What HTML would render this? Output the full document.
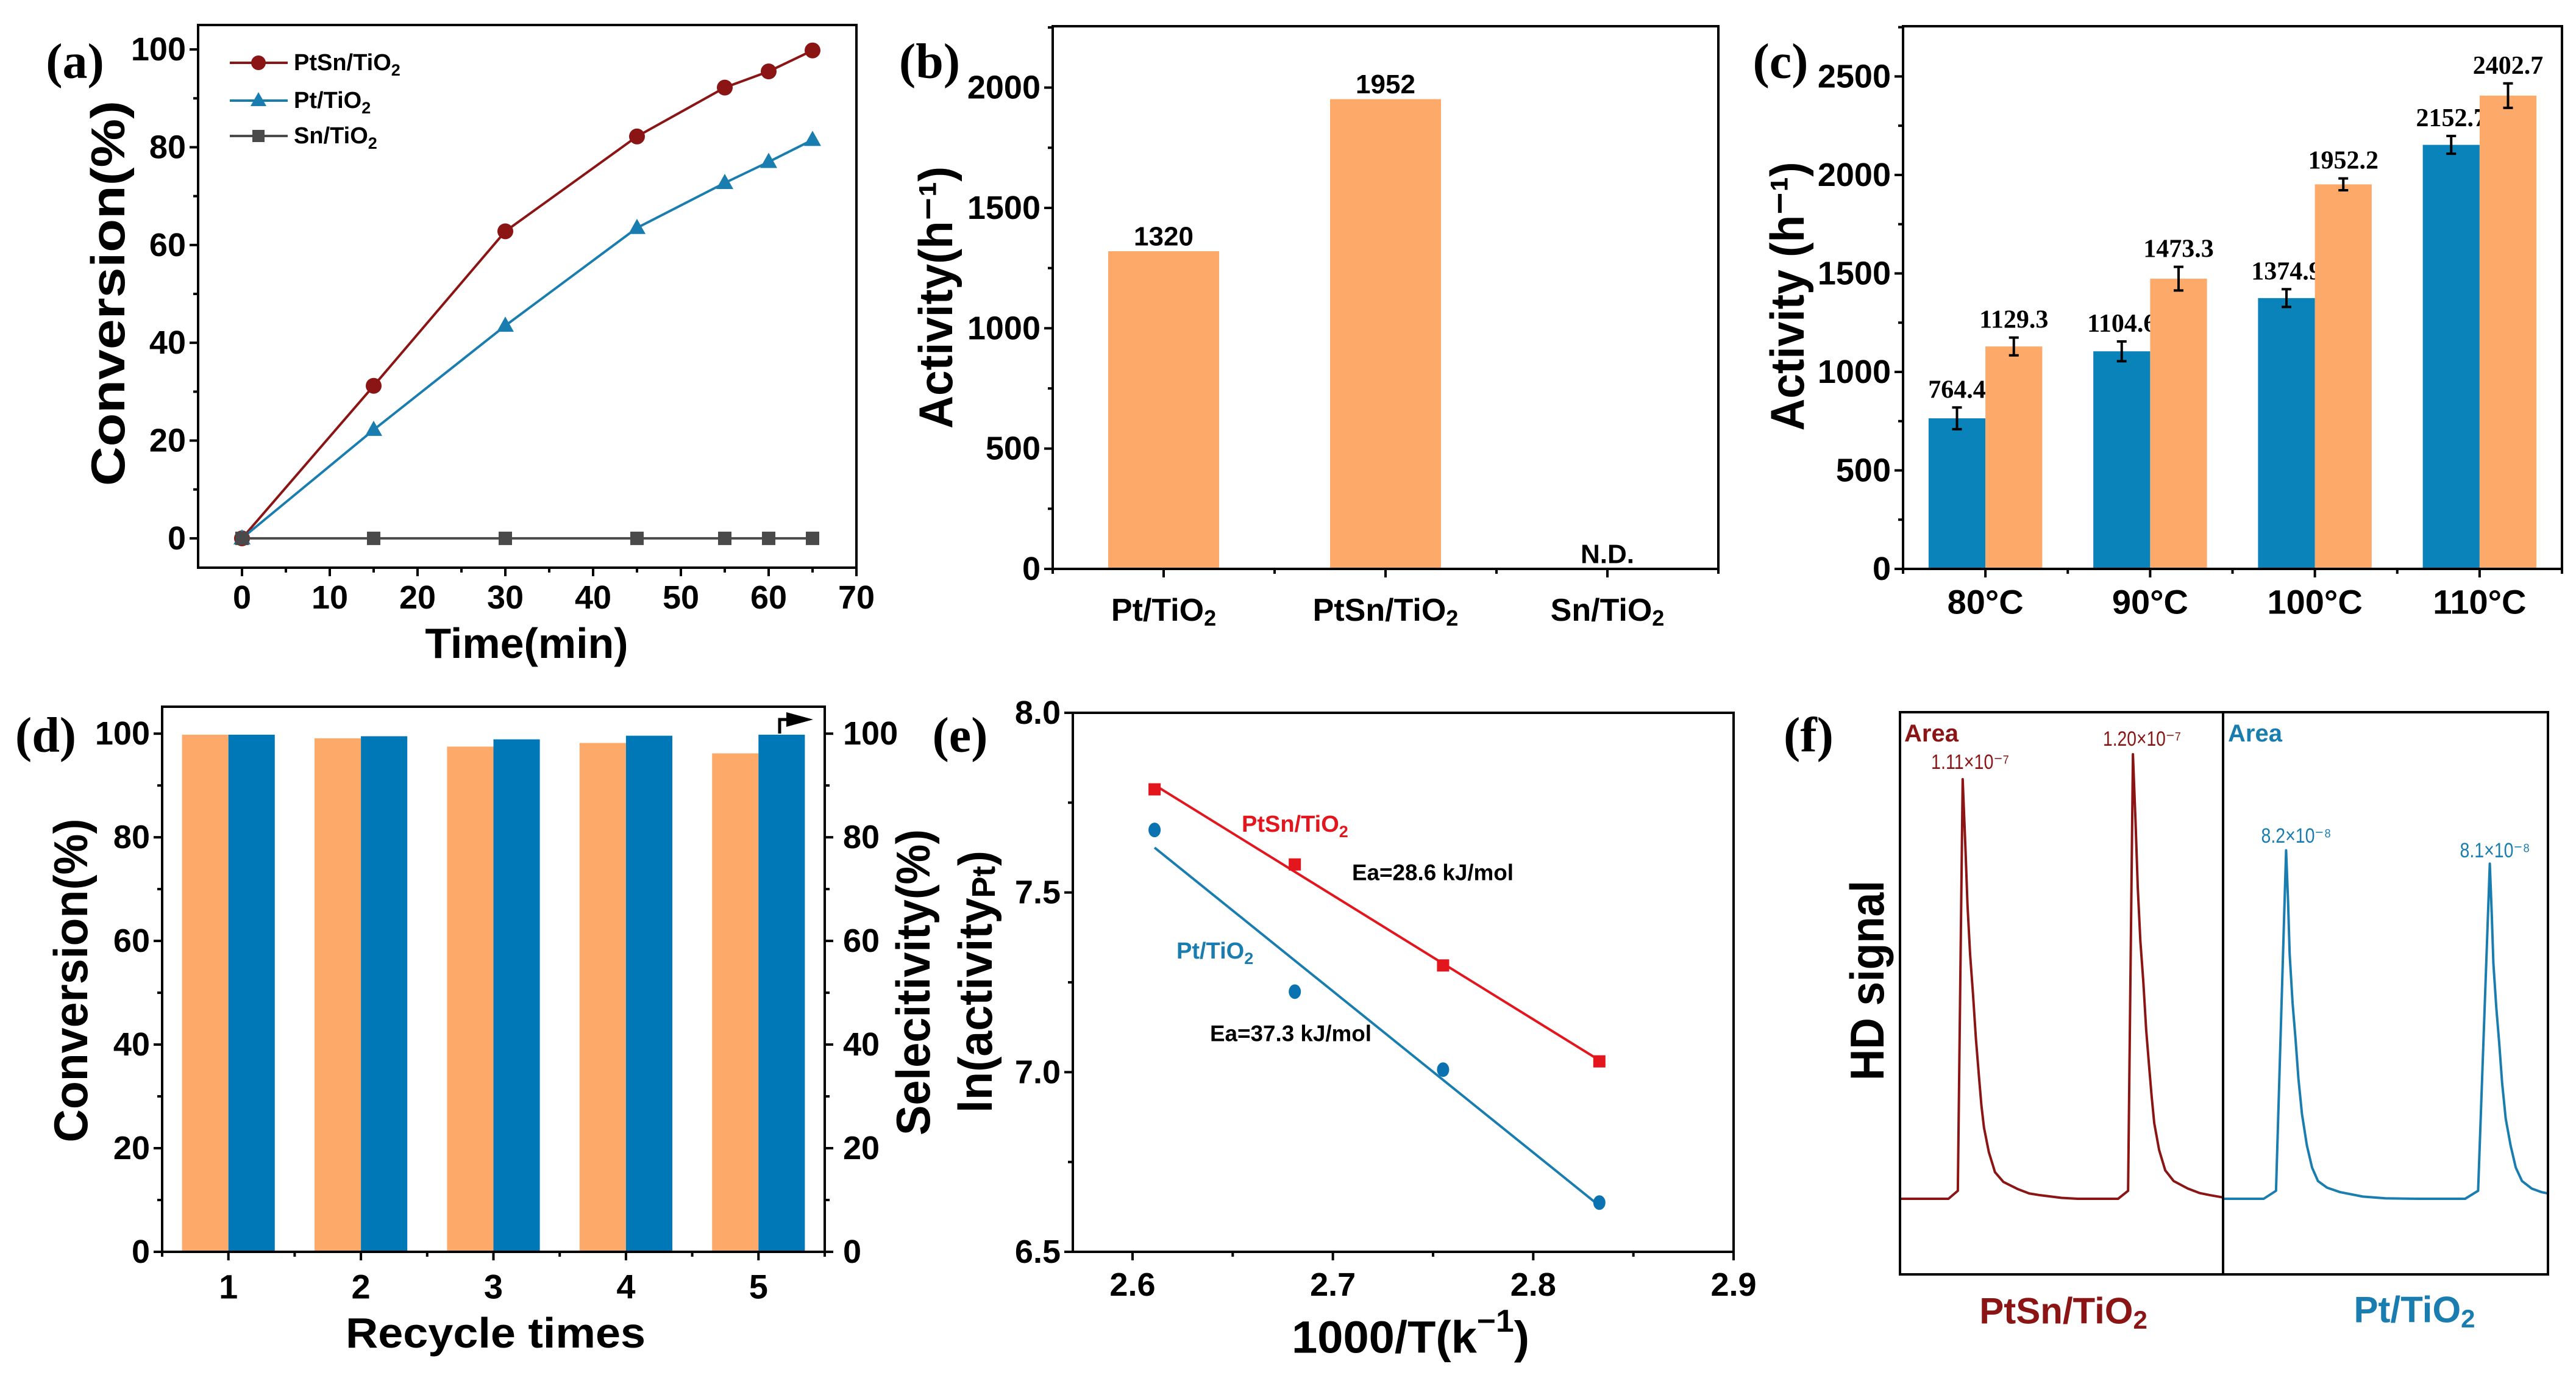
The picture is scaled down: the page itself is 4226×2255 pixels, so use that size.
<!DOCTYPE html>
<html><head><meta charset="utf-8"><style>
html,body{margin:0;padding:0;background:#fff;}
svg{display:block;}
</style></head>
<body>
<svg id="fig" xmlns="http://www.w3.org/2000/svg" width="4226" height="2255" viewBox="0 0 4226 2255"></svg>
<script>
// ---------- data ----------
const aTime=[0,15,30,45,55,60,65];
const aPtSn=[0,31.2,62.8,82.2,92.2,95.5,99.8];
const aPt=[0,22.2,43.5,63.5,72.7,77,81.5];
const aSn=[0,0,0,0,0,0,0];
const aXTicks=[0,10,20,30,40,50,60,70];
const aYTicks=[0,20,40,60,80,100];

const bCats=['Pt/TiO<tspan dy="12" font-size="36">2</tspan>','PtSn/TiO<tspan dy="12" font-size="36">2</tspan>','Sn/TiO<tspan dy="12" font-size="36">2</tspan>'];
const bVals=[1320,1952,0];
const bLabels=['1320','1952','N.D.'];
const bYTicks=[0,500,1000,1500,2000];

const cCats=['80°C','90°C','100°C','110°C'];
const cPt=[764.4,1104.6,1374.9,2152.7];
const cPtErr=[55,50,45,45];
const cPtSn=[1129.3,1473.3,1952.2,2402.7];
const cPtSnErr=[45,60,30,62];
const cYTicks=[0,500,1000,1500,2000,2500];

const dCats=['1','2','3','4','5'];
const dConv=[99.8,99.1,97.5,98.2,96.2];
const dSel=[99.8,99.5,98.9,99.6,99.8];
const dYTicks=[0,20,40,60,80,100];

const eX=[2.611,2.681,2.755,2.833];
const ePtSn=[7.787,7.578,7.297,7.030];
const ePt=[7.674,7.224,7.007,6.637];
const eXTicks=[2.6,2.7,2.8,2.9];
const eYTicks=[6.5,7.0,7.5,8.0];

const fRedT=[0,15,17.9,19.4,20.2,20.9,21.7,22.6,23.5,24.5,25.2,26,27.5,29.4,32,36.4,40,43.4,50,55,67.5,70.6,72.1,72.9,73.6,74.4,75.3,76.2,77.2,77.9,78.7,80.2,82.1,84.7,89.1,92.7,96.1,100];
const fRedS=[0,0,1.8,94.4,80,66,55,46,36,27,21,16,10.5,6,3.8,2.2,1.2,0.8,0.2,0,0,1.8,100,85,70,58,49,38,29,23,17,11,6.4,4,2.3,1.3,0.8,0.3];
const fBlueT=[0,12.5,16.3,19.4,20.0,20.5,21.4,22.3,23.2,24.3,25.8,27.4,29.2,32,36,43,50,60,74.5,78.5,82.1,82.7,83.2,84.1,85,85.9,87,88.5,90.1,92,95,98,100];
const fBlueS=[0,0,1.8,78.4,67,55,44,36,27,19,12,7,4,2.5,1.5,0.5,0.1,0,0,1.8,75.4,64,53,43,35,26,18,12,7,4,2.3,1.5,1.2];

// ---------- helpers ----------
const NS='http://www.w3.org/2000/svg';
const svg=document.getElementById('fig');
function mk(tag,at,parent){const e=document.createElementNS(NS,tag);for(const k in at)e.setAttribute(k,at[k]);(parent||svg).appendChild(e);return e;}
function lin(d0,d1,p0,p1){return v=>p0+(v-d0)*(p1-p0)/(d1-d0);}
function text(g,x,y,html,size,o){o=o||{};
  const t=mk('text',{x:x,y:y,'font-size':size,'font-family':o.serif?'"Liberation Serif", serif':'"Liberation Sans", sans-serif','font-weight':o.w||'bold','text-anchor':o.a||'middle','dominant-baseline':'central',fill:o.c||'#000'},g);
  if(o.len){t.setAttribute('textLength',o.len);t.setAttribute('lengthAdjust','spacingAndGlyphs');}
  if(o.rot){t.setAttribute('transform','rotate(-90 '+x+' '+y+')');}
  t.innerHTML=html;return t;}
function frame(g,x0,y0,x1,y1){const r=mk('rect',{x:x0,y:y0,width:x1-x0,height:y1-y0,fill:'none',stroke:'#000','stroke-width':4},g);
  
  }
function xTick(g,x,y,len){const l=mk('line',{x1:x,y1:y,x2:x,y2:y+len,stroke:'#000','stroke-width':4},g);
  
  }
function yTick(g,x,y,len){const l=mk('line',{x1:x,y1:y,x2:x-len,y2:y,stroke:'#000','stroke-width':4},g);
  
  }
function panelLabel(x,y,s){const t=text(svg,x,y,s,82,{serif:true});
  
  }
const ORANGE='#FDA96A', BLUE='#0A82BA', DRED='#8B1515', LBLUE='#1A7DB0', RED='#E3161E';
const TICKF=54;

// ---------- panel a ----------
(function(){
 const g=mk('g',{});
 
 
 const X=lin(-5,70,325,1405), Y=lin(-6,105,931,41);
 frame(g,325,41,1405,931);
 aXTicks.forEach(v=>{xTick(g,X(v),931,14);
   const t=text(g,X(v),980,String(v),TICKF);
   
   });
 for(let v=5;v<70;v+=10)xTick(g,X(v),931,8);
 aYTicks.forEach(v=>{yTick(g,325,Y(v),14);
   const t=text(g,305,Y(v),String(v),TICKF,{a:'end'});
   
   });
 for(let v=10;v<105;v+=20)yTick(g,325,Y(v),8);
 const series=[[aPtSn,DRED,'c'],[aPt,LBLUE,'t'],[aSn,'#4a4a4a','s']];
 series.forEach(([arr,col,m])=>{
   const p=mk('polyline',{points:aTime.map((t,i)=>X(t)+','+Y(arr[i])).join(' '),fill:'none',stroke:col,'stroke-width':4},g);
   
   
   aTime.forEach((t,i)=>{let e;const cx=X(t),cy=Y(arr[i]);
     if(m==='c')e=mk('circle',{cx:cx,cy:cy,r:13,fill:col},g);
     else if(m==='t')e=mk('polygon',{points:(cx)+','+(cy-15)+' '+(cx-14)+','+(cy+10)+' '+(cx+14)+','+(cy+10),fill:col},g);
     else e=mk('rect',{x:cx-11,y:cy-11,width:22,height:22,fill:col},g);
     
     });
 });
 const leg=[['PtSn/TiO',DRED,'c',103],['Pt/TiO',LBLUE,'t',165],['Sn/TiO','#4a4a4a','s',223]];
 leg.forEach(([s,col,m,y])=>{
   const l=mk('line',{x1:377,y1:y,x2:472,y2:y,stroke:col,'stroke-width':4},g);
   
   
   let e;const cx=424;
   if(m==='c')e=mk('circle',{cx:cx,cy:y,r:12,fill:col},g);
   else if(m==='t')e=mk('polygon',{points:cx+','+(y-14)+' '+(cx-13)+','+(y+9)+' '+(cx+13)+','+(y+9),fill:col},g);
   else e=mk('rect',{x:cx-10,y:y-10,width:20,height:20,fill:col},g);
   
   
   const t=text(g,482,y,s+'<tspan dy="12" font-size="27">2</tspan>',38,{a:'start'});
   
   
 });
 const xt=text(g,864,1055,'Time(min)',70);
 
 
 const yt=text(g,177,481,'Conversion(%)',78,{rot:true,len:632});
 
 
})();
panelLabel(123,100,'(a)');

// ---------- panel b ----------
(function(){
 const g=mk('g',{});
 
 
 const X=lin(0.5,3.5,1727,2819), Y=lin(0,2255,933,43);
 bVals.forEach((v,i)=>{
   const r=mk('rect',{x:X(i+1)-X(1.25)+X(1),y:Y(v),width:X(1.5)-X(1),height:Y(0)-Y(v),fill:ORANGE},g);
   
   
   const t=text(g,X(i+1),Y(v)-24,bLabels[i],44);
   
   
   const c=text(g,X(i+1),1001,bCats[i],52);
   
   
   xTick(g,X(i+1),933,14);
 });
 [0.5,1.5,2.5,3.5].forEach(v=>xTick(g,X(v),933,8));
 frame(g,1727,43,2819,933);
 bYTicks.forEach(v=>{yTick(g,1727,Y(v),14);
   const t=text(g,1707,Y(v),String(v),TICKF,{a:'end'});
   
   });
 for(let v=250;v<2255;v+=500)yTick(g,1727,Y(v),8);
 const yt=text(g,1535,488,'Activity(h⁻¹)',78,{rot:true,len:430});
 
 
})();
panelLabel(1525,100,'(b)');

// ---------- panel c ----------
(function(){
 const g=mk('g',{});
 
 
 const X=lin(0.5,4.5,3122,4203), Y=lin(0,2755,933,43);
 const bw=X(0.845)-X(0.5);
 cCats.forEach((c,i)=>{
   const cx=X(i+1);
   [[cPt[i],cPtErr[i],BLUE,cx-bw],[cPtSn[i],cPtSnErr[i],ORANGE,cx]].forEach(([v,e,col,x0])=>{
     const r=mk('rect',{x:x0,y:Y(v),width:bw,height:Y(0)-Y(v),fill:col},g);
     
     
     const mx=x0+bw/2;
     const eb=mk('path',{d:'M'+(mx-8)+' '+Y(v+e)+'H'+(mx+8)+'M'+mx+' '+Y(v+e)+'V'+Y(v-e)+'M'+(mx-8)+' '+Y(v-e)+'H'+(mx+8),stroke:'#000','stroke-width':4,fill:'none'},g);
     
     
     const t=text(g,mx,Y(v+e)-29,v.toFixed(1),42,{serif:true});
     
     
   });
   xTick(g,cx,933,14);
   const t=text(g,cx,987,c,56);
   
   
 });
 [0.5,1.5,2.5,3.5,4.5].forEach(v=>xTick(g,X(v),933,8));
 frame(g,3122,43,4203,933);
 cYTicks.forEach(v=>{yTick(g,3122,Y(v),14);
   const t=text(g,3102,Y(v),String(v),TICKF,{a:'end'});
   
   });
 for(let v=250;v<2755;v+=500)yTick(g,3122,Y(v),8);
 const yt=text(g,2932,486,'Activity (h⁻¹)',78,{rot:true,len:441});
 
 
})();
panelLabel(2921,100,'(c)');

// ---------- panel d ----------
(function(){
 const g=mk('g',{});
 
 
 const X=lin(0.5,5.5,266,1353), Y=lin(0,105.2,2053,1159);
 const bw=X(0.85)-X(0.5);
 dCats.forEach((c,i)=>{
   const cx=X(i+1);
   const r1=mk('rect',{x:cx-bw,y:Y(dConv[i]),width:bw,height:Y(0)-Y(dConv[i]),fill:ORANGE},g);
   
   
   const r2=mk('rect',{x:cx,y:Y(dSel[i]),width:bw,height:Y(0)-Y(dSel[i]),fill:'#0077B6'},g);
   
   
   xTick(g,cx,2053,14);
   const t=text(g,cx,2110,c,56);
   
   
 });
 [0.5,1.5,2.5,3.5,4.5,5.5].forEach(v=>xTick(g,X(v),2053,8));
 frame(g,266,1159,1353,2053);
 dYTicks.forEach(v=>{yTick(g,266,Y(v),14);
   const t=text(g,246,Y(v),String(v),TICKF,{a:'end'});
   
   
   const l=mk('line',{x1:1353,y1:Y(v),x2:1367,y2:Y(v),stroke:'#000','stroke-width':4},g);
   
   
   const t2=text(g,1383,Y(v),String(v),TICKF,{a:'start'});
   
   });
 for(let v=10;v<105;v+=20){yTick(g,266,Y(v),8);
   const l=mk('line',{x1:1353,y1:Y(v),x2:1361,y2:Y(v),stroke:'#000','stroke-width':4},g);
   
   }
 const ar=mk('path',{d:'M1279 1203V1180H1295',stroke:'#000','stroke-width':5,fill:'none'},g);
 
 
 const ah=mk('polygon',{points:'1290,1168 1334,1180 1290,1192',fill:'#000'},g);
 
 
 const xt=text(g,813,2186,'Recycle times',70,{len:492});
 
 
 const yt=text(g,116,1608,'Conversion(%)',78,{rot:true,len:531});
 
 
})();
panelLabel(75,1205,'(d)');

// ---------- panel e ----------
(function(){
 const g=mk('g',{});
 
 
 const X=lin(2.5702,2.9,1760,2844), Y=lin(6.5,8.0,2053,1169);
 frame(g,1760,1169,2844,2053);
 eXTicks.forEach(v=>{xTick(g,X(v),2053,14);
   const t=text(g,X(v),2107,v.toFixed(1),54);
   
   });
 [2.65,2.75,2.85].forEach(v=>xTick(g,X(v),2053,8));
 eYTicks.forEach(v=>{yTick(g,1760,Y(v),14);
   const t=text(g,1740,Y(v),v.toFixed(1),TICKF,{a:'end'});
   
   });
 [6.75,7.25,7.75].forEach(v=>yTick(g,1760,Y(v),8));
 function fit(xs,ys){const n=xs.length,mx=xs.reduce((a,b)=>a+b)/n,my=ys.reduce((a,b)=>a+b)/n;
   let sxy=0,sxx=0;xs.forEach((x,i)=>{sxy+=(x-mx)*(ys[i]-my);sxx+=(x-mx)*(x-mx);});const k=sxy/sxx;return [k,my-k*mx];}
 [[ePtSn,RED,'s'],[ePt,LBLUE,'c']].forEach(([ys,col,m])=>{
   const [k,b]=fit(eX,ys);
   const x0=eX[0],x1=eX[eX.length-1];
   const l=mk('line',{x1:X(x0),y1:Y(k*x0+b),x2:X(x1),y2:Y(k*x1+b),stroke:col,'stroke-width':4},g);
   
   
   eX.forEach((x,i)=>{let e;
     if(m==='s')e=mk('rect',{x:X(x)-10,y:Y(ys[i])-10,width:20,height:20,fill:col},g);
     else e=mk('ellipse',{cx:X(x),cy:Y(ys[i]),rx:10,ry:12,fill:'#0A72B0'},g);
     
     });
 });
 const t1=text(g,2037,1352,'PtSn/TiO<tspan dy="12" font-size="27">2</tspan>',38,{a:'start',c:RED});
 
 
 const t2=text(g,2218,1431,'Ea=28.6 kJ/mol',37,{a:'start',len:265});
 
 
 const t3=text(g,1930,1560,'Pt/TiO<tspan dy="12" font-size="27">2</tspan>',38,{a:'start',c:LBLUE});
 
 
 const t4=text(g,1985,1695,'Ea=37.3 kJ/mol',37,{a:'start',len:265});
 
 
 const xt=text(g,2314,2193,'1000/T(k<tspan dy="-26" font-size="52">−1</tspan><tspan dy="26">)</tspan>',74,{len:390});
 
 
 const yt=text(g,1600,1610,'ln(activity<tspan dy="14" font-size="54">Pt</tspan><tspan dy="-14">)</tspan>',78,{rot:true,len:430});
 
 
 const st=text(g,1498,1611,'Selecitivity(%)',78,{rot:true,len:502});
 
 
})();
panelLabel(1575,1205,'(e)');

// ---------- panel f ----------
(function(){
 const g=mk('g',{});
 
 
 const Y=lin(0,100,1966,1237);
 const XR=lin(0,100,3117,3647), XB=lin(0,100,3647,4180);
 const p1=mk('polyline',{points:fRedT.map((t,i)=>XR(t)+','+Y(fRedS[i])).join(' '),fill:'none',stroke:DRED,'stroke-width':4,'stroke-linejoin':'round'},g);
 
 
 const p2=mk('polyline',{points:fBlueT.map((t,i)=>XB(t)+','+Y(fBlueS[i])).join(' '),fill:'none',stroke:LBLUE,'stroke-width':4,'stroke-linejoin':'round'},g);
 
 
 frame(g,3117,1168,4180,2090);
 const dv=mk('line',{x1:3647,y1:1168,x2:3647,y2:2090,stroke:'#000','stroke-width':4},g);
 
 
 const a1=text(g,3124,1203,'Area',40,{a:'start',c:DRED});
 
 
 const a2=text(g,3655,1203,'Area',40,{a:'start',c:LBLUE});
 
 
 const lbl=[[3232,1250,'1.11×10⁻⁷',DRED],[3514,1212,'1.20×10⁻⁷',DRED],[3767,1371,'8.2×10⁻⁸',LBLUE],[4093,1395,'8.1×10⁻⁸',LBLUE]];
 lbl.forEach(([x,y,s,c])=>{const t=text(g,x,y,s,34,{w:'normal',c:c,len:s.length>8?128:115});
   
   });
 const b1=text(g,3385,2150,'PtSn/TiO<tspan dy="14" font-size="42">2</tspan>',60,{c:DRED});
 
 
 const b2=text(g,3961,2148,'Pt/TiO<tspan dy="14" font-size="42">2</tspan>',60,{c:LBLUE});
 
 
 const yt=text(g,3063,1608,'HD signal',78,{rot:true,len:328});
 
 
})();
panelLabel(2967,1205,'(f)');
</script>
</body></html>
